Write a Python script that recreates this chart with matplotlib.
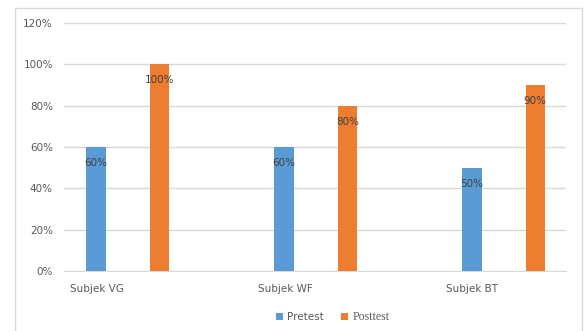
import matplotlib.pyplot as plt
from matplotlib.patches import Rectangle
from matplotlib.ticker import PercentFormatter

# Data
subjects = ["Subjek VG", "Subjek WF", "Subjek BT"]
pretest = [0.60, 0.60, 0.50]
posttest = [1.00, 0.80, 0.90]
series_names = ["Pretest", "Posttest"]

blue = "#5B9BD5"
orange = "#ED7D31"
text_gray = "#595959"
grid_gray = "#D9D9D9"

W, H = 584, 331
fig = plt.figure(figsize=(W / 100, H / 100), dpi=100)

# outer chart border
fig.patches.append(Rectangle((15 / W, -0.05), (582 - 15) / W, 1.05 - 8 / H,
                             transform=fig.transFigure, fill=False,
                             edgecolor=grid_gray, linewidth=1.0))

# plot area in pixel terms
left, right, top, bottom = 64, 566, 23, 271
ax = fig.add_axes([left / W, 1 - bottom / H, (right - left) / W, (bottom - top) / H])

x = list(range(len(subjects)))
bw = 0.104
off = 0.169
b1 = ax.bar([i - off for i in x], pretest, bw, color=blue, label=series_names[0], zorder=3)
b2 = ax.bar([i + off for i in x], posttest, bw, color=orange, label=series_names[1], zorder=3)

for bars, vals in ((b1, pretest), (b2, posttest)):
    for rect, v in zip(bars, vals):
        ax.annotate(f"{v:.0%}", (rect.get_x() + rect.get_width() / 2, v),
                    xytext=(0, -11.5), textcoords="offset points",
                    ha="center", va="center", fontsize=7.5, color="#404040", zorder=4)

ax.set_ylim(0, 1.2)
ax.set_yticks([0, 0.2, 0.4, 0.6, 0.8, 1.0, 1.2])
ax.yaxis.set_major_formatter(PercentFormatter(1.0, decimals=0))
ax.set_xlim(-0.338, 2.332)
ax.set_xticks([])
ax.grid(axis="y", color=grid_gray, linewidth=1.0, zorder=0)
for s in ["top", "right", "left"]:
    ax.spines[s].set_visible(False)
ax.spines["bottom"].set_color(grid_gray)
ax.tick_params(axis="y", length=0, pad=8, labelsize=7.5, labelcolor=text_gray)

# category labels, left aligned like in the original
for i, name in enumerate(subjects):
    ax.text(i - 0.306, -18 / (bottom - top) * 1.2, name, ha="left", va="center",
            fontsize=7.5, color=text_gray)

leg = fig.legend(handles=[b1, b2], loc="center", bbox_to_anchor=(332.5 / W, 1 - 317 / H),
                 ncol=2, frameon=False, fontsize=7.5, handlelength=0.7, handleheight=0.7,
                 handletextpad=0.4, columnspacing=1.6)
for t in leg.get_texts():
    t.set_color(text_gray)
leg.get_texts()[1].set_family("Liberation Serif")
leg.get_texts()[1].set_fontsize(8.5)

fig.savefig("out.png", dpi=100)
